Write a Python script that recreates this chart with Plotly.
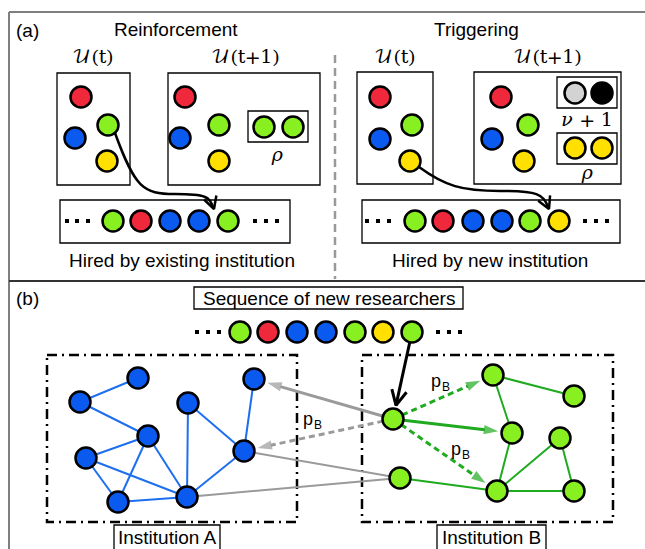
import numpy as np
import plotly.graph_objects as go

# ---------------- data ----------------
PALETTE = {"R": "#F0283C", "B": "#0A5AF0", "G": "#88F020", "Y": "#FFE000",
           "L": "#D3D3D3", "K": "#000000"}

# Panel (a) circles: x, y, colour key
a_x = [81, 75, 108, 107, 185, 180, 219, 219, 264, 293,
       113, 141, 170, 199, 228,
       380, 380, 412, 410, 501, 492, 528, 524, 575, 602, 575, 602,
       415, 443, 473, 502, 530, 559]
a_y = [97, 138, 125, 161, 97, 138, 125, 161, 127, 127,
       221, 221, 221, 221, 221,
       97, 139, 125, 161, 97, 139, 125, 161, 93, 93, 148, 148,
       221, 221, 221, 221, 221, 221]
a_c = ["R", "B", "G", "Y", "R", "B", "G", "Y", "G", "G",
       "G", "R", "B", "B", "G",
       "R", "B", "G", "Y", "R", "B", "G", "Y", "L", "K", "Y", "Y",
       "G", "R", "B", "B", "G", "Y"]

# Panel (b) sequence of new researchers
seq_x = [240, 268, 297, 326, 355, 383, 412]
seq_y = [332, 332, 332, 332, 332, 332, 332]
seq_c = ["G", "R", "B", "B", "G", "Y", "G"]

# ellipsis dots
dots_x = [67, 77, 88, 255, 266, 277, 367, 378, 389, 585, 596, 607,
          197, 208, 219, 438, 449, 460]
dots_y = [221] * 12 + [332] * 6

# Institution A network
A_x = [138, 80, 148, 86, 118, 188, 254, 244, 187]
A_y = [378, 402, 436, 458, 502, 403, 379, 451, 497]
A_edges = [(0, 1), (1, 2), (2, 3), (2, 4), (2, 8), (3, 4), (3, 8), (4, 8),
           (5, 8), (5, 7), (6, 7), (7, 8)]

# Institution B network (node 0 = new researcher)
B_x = [393, 493, 574, 512, 560, 400, 497, 574]
B_y = [419, 375, 396, 433, 438, 478, 491, 491]
B_edges = [(1, 2), (1, 3), (3, 6), (4, 6), (4, 7), (6, 7), (5, 6)]

# Boxes: x0, y0, x1, y1
solid_boxes = [(57, 73, 130, 185), (168, 73, 320, 185), (248, 111, 308, 142),
               (60, 200, 290, 243),
               (357, 72, 433, 184), (474, 72, 621, 184), (557, 77, 617, 108),
               (557, 133, 617, 164), (362, 200, 620, 243),
               (194, 287, 463, 309), (114, 525, 220, 562), (437, 525, 546, 562)]
dashdot_boxes = [(47, 355, 297, 522), (362, 355, 613, 522)]

# Curved arrows in (a): SVG paths + arrowhead direction (tail -> tip)
curve_paths = ["M 115 133 C 135 188, 143 194, 175 194 S 209 197, 213 207",
               "M 419 167 C 445 186, 462 191, 500 191 S 543 194, 548 207"]
curve_heads = [((211, 200), (214, 209)), ((545, 200), (549, 209))]

# Texts: x, y, text, size, family
SANS = "Liberation Sans"
MATH = "DejaVu Math TeX Gyre, DejaVu Serif"
texts = [
    (27, 30, "(a)", 19, SANS),
    (27, 298, "(b)", 19, SANS),
    (176, 29, "Reinforcement", 19, SANS),
    (476, 29, "Triggering", 19, SANS),
    (182, 260, "Hired by existing institution", 19, SANS),
    (490, 260, "Hired by new institution", 19, SANS),
    (329, 298, "Sequence of new researchers", 19, SANS),
    (167, 537, "Institution A", 19, SANS),
    (491, 537, "Institution B", 19, SANS),
    (93, 57, "𝒰(t)", 19, MATH),
    (245, 57, "𝒰(t+1)", 19, MATH),
    (395, 57, "𝒰(t)", 19, MATH),
    (547, 57, "𝒰(t+1)", 19, MATH),
    (277, 155, "𝜌", 19, MATH),
    (587, 173, "𝜌", 19, MATH),
    (587, 120, "𝜈 + 1", 19, MATH),
    # p_B labels: main letter and subscript
    (308, 419, "p", 18, SANS), (318, 425, "B", 12, SANS),
    (436, 381, "p", 18, SANS), (446, 387, "B", 12, SANS),
    (456, 449, "p", 18, SANS), (466, 455, "B", 12, SANS),
]

GREEN_LINE = "#1FAA1F"
BLUE_LINE = "#1E6FF0"
GRAY = "#9A9A9A"
R_NODE = 12

fig = go.Figure()


def edge_trace(xs, ys, edges, color, width):
    ex, ey = [], []
    for i, j in edges:
        ex += [xs[i], xs[j], None]
        ey += [ys[i], ys[j], None]
    return go.Scatter(x=ex, y=ey, mode="lines", line=dict(color=color, width=width),
                      hoverinfo="skip")


fig.add_trace(edge_trace(A_x, A_y, A_edges, BLUE_LINE, 2))
fig.add_trace(edge_trace(B_x, B_y, B_edges, GREEN_LINE, 2))

# gray plain links from B node 5 to A nodes
gx, gy = [], []
for j in (7, 8):
    gx += [B_x[5], A_x[j], None]
    gy += [B_y[5], A_y[j], None]
fig.add_trace(go.Scatter(x=gx, y=gy, mode="lines", line=dict(color=GRAY, width=2),
                         hoverinfo="skip"))

# arrows: (source xy, target xy, color, width, dashed, open head)
arrows = [
    ((B_x[0], B_y[0]), (A_x[6], A_y[6]), GRAY, 3, False, False),
    ((B_x[0], B_y[0]), (A_x[7], A_y[7]), GRAY, 3, True, False),
    ((B_x[0], B_y[0]), (B_x[1], B_y[1]), GREEN_LINE, 3, True, False),
    ((B_x[0], B_y[0]), (B_x[3], B_y[3]), GREEN_LINE, 3, False, False),
    ((B_x[0], B_y[0]), (B_x[6], B_y[6]), GREEN_LINE, 3, True, False),
    ((seq_x[-1], seq_y[-1]), (B_x[0], B_y[0]), "#000000", 3, False, True),
]


def chevron_trace(tip, u, col, w, length=13, half=7):
    n = np.array([-u[1], u[0]])
    base = tip - length * u
    p1 = base + half * n
    p2 = base - half * n
    return go.Scatter(x=[p1[0], tip[0], p2[0]], y=[p1[1], tip[1], p2[1]],
                      mode="lines", line=dict(color=col, width=w),
                      hoverinfo="skip")


for (sx, sy), (tx, ty), col, w, dashed, open_head in arrows:
    d = np.array([tx - sx, ty - sy], dtype=float)
    u = d / np.linalg.norm(d)
    tip = np.array([tx, ty]) - (R_NODE + 2) * u
    if open_head:
        fig.add_trace(go.Scatter(x=[sx, tip[0]], y=[sy, tip[1]], mode="lines",
                                 line=dict(color=col, width=w), hoverinfo="skip"))
        fig.add_trace(chevron_trace(tip, u, col, w, 15, 7.5))
    else:
        fig.add_trace(go.Scatter(
            x=[sx, tip[0]], y=[sy, tip[1]], mode="lines+markers",
            line=dict(color=col, width=w, dash="6px,4px" if dashed else "solid"),
            marker=dict(symbol=["circle", "arrow"], size=[0, 15], color=col,
                        angleref="previous", line=dict(width=0)),
            hoverinfo="skip"))

for p0, p1 in curve_heads:
    d = np.array([p1[0] - p0[0], p1[1] - p0[1]], dtype=float)
    u = d / np.linalg.norm(d)
    fig.add_trace(chevron_trace(np.array(p1, dtype=float), u, "#000000", 2.5, 12, 6.5))


# circles
def circle_trace(xs, ys, cs):
    return go.Scatter(x=xs, y=ys, mode="markers",
                      marker=dict(size=21, color=[PALETTE[c] for c in cs],
                                  line=dict(color="#000000", width=2.5)),
                      hoverinfo="skip")


fig.add_trace(circle_trace(a_x, a_y, a_c))
fig.add_trace(circle_trace(seq_x, seq_y, seq_c))
fig.add_trace(circle_trace(A_x, A_y, ["B"] * len(A_x)))
fig.add_trace(circle_trace(B_x, B_y, ["G"] * len(B_x)))
fig.add_trace(go.Scatter(x=dots_x, y=dots_y, mode="markers",
                         marker=dict(symbol="square", size=4, color="#000000"),
                         hoverinfo="skip"))

shapes = []
for x0, y0, x1, y1 in solid_boxes:
    shapes.append(dict(type="rect", x0=x0, y0=y0, x1=x1, y1=y1, xref="x", yref="y",
                       line=dict(color="#000000", width=1.3), fillcolor="white",
                       layer="below"))
for x0, y0, x1, y1 in dashdot_boxes:
    shapes.append(dict(type="rect", x0=x0, y0=y0, x1=x1, y1=y1, xref="x", yref="y",
                       line=dict(color="#000000", width=2.5, dash="10px,5px,2px,5px"),
                       layer="below"))
for p in curve_paths:
    shapes.append(dict(type="path", path=p, xref="x", yref="y",
                       line=dict(color="#000000", width=2.5), layer="below"))
# frame and separators
shapes += [
    dict(type="line", x0=9, y0=12, x1=645, y1=12, xref="x", yref="y",
         line=dict(color="#7F7F7F", width=2)),
    dict(type="line", x0=9, y0=12, x1=9, y1=549, xref="x", yref="y",
         line=dict(color="#7F7F7F", width=2)),
    dict(type="line", x0=9, y0=281, x1=645, y1=281, xref="x", yref="y",
         line=dict(color="#333333", width=2)),
    dict(type="line", x0=335, y0=55, x1=335, y1=279, xref="x", yref="y",
         line=dict(color="#999999", width=2.5, dash="8px,5px")),
]

annotations = []
for x, y, t, s, f in texts:
    annotations.append(dict(x=x, y=y, xref="x", yref="y", text=t, showarrow=False,
                            font=dict(size=s, family=f, color="#000000"),
                            xanchor="center", yanchor="middle"))

fig.update_layout(
    width=645, height=549, margin=dict(l=0, r=0, t=0, b=0),
    paper_bgcolor="white", plot_bgcolor="white", showlegend=False,
    xaxis=dict(range=[0, 645], visible=False, fixedrange=True),
    yaxis=dict(range=[549, 0], visible=False, fixedrange=True),
    shapes=shapes, annotations=annotations,
)

fig.write_html("out.html", config={"displayModeBar": False},
               post_script="document.body.style.margin='0px';"
                           "document.body.style.overflow='hidden';")
